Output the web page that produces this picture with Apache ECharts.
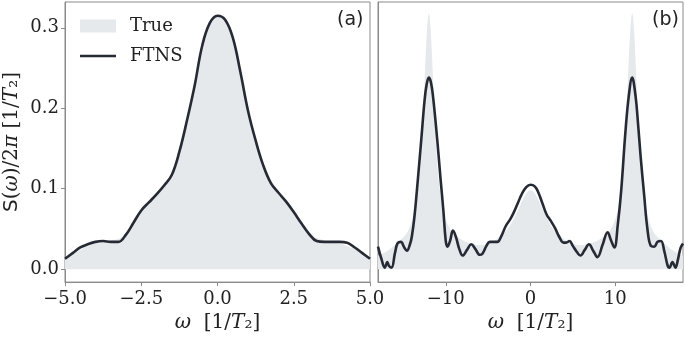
<!DOCTYPE html>
<html>
<head>
<meta charset="utf-8">
<script src="https://cdn.jsdelivr.net/npm/echarts@6/dist/echarts.min.js"></script>
<style>
  html, body { margin: 0; padding: 0; background: #fff; }
  #chart { width: 685px; height: 338px; }
</style>
</head>
<body>
<div id="chart"></div>
<script>
// tick positions
const ticksY = [0, 0.1, 0.2, 0.3];
const ticksXa = [-5, -2.5, 0, 2.5, 5];
const ticksXb = [-10, 0, 10];

// panel (a)
const xA = [-5, -4.75, -4.5, -4.25, -4, -3.75, -3.5, -3.25, -3, -2.75, -2.5, -2.25, -2, -1.75, -1.5, -1.25, -1, -0.75, -0.5, -0.25,
  0, 0.25, 0.5, 0.75, 1, 1.25, 1.5, 1.75, 2, 2.25, 2.5, 2.75, 3, 3.25, 3.5, 3.75, 4, 4.25, 4.5, 4.75, 5];
const ftnsA = [0.013, 0.020, 0.027, 0.031, 0.034, 0.035, 0.034, 0.034, 0.043, 0.058, 0.073, 0.083, 0.093, 0.104, 0.117, 0.146, 0.185, 0.228, 0.278, 0.306,
  0.315, 0.310, 0.288, 0.245, 0.197, 0.160, 0.129, 0.107, 0.095, 0.084, 0.071, 0.057, 0.044, 0.035, 0.034, 0.034, 0.034, 0.033, 0.027, 0.020, 0.013];
const trueA = [0.012, 0.018, 0.024, 0.029, 0.032, 0.034, 0.036, 0.038, 0.045, 0.058, 0.072, 0.083, 0.094, 0.105, 0.118, 0.146, 0.185, 0.228, 0.276, 0.305,
  0.314, 0.309, 0.287, 0.245, 0.198, 0.161, 0.130, 0.108, 0.095, 0.083, 0.070, 0.057, 0.046, 0.039, 0.036, 0.034, 0.032, 0.029, 0.025, 0.019, 0.013];

// panel (b)
const xBf = [-18, -17.6, -17.2, -16.9, -16.7, -16.4, -16, -15.7, -15.3, -14.9, -14.6, -14.2, -14, -13.7, -13.4, -12.9, -12.5, -12.25, -12, -11.75,
  -11.5, -11, -10.6, -10.3, -10, -9.8, -9.5, -9.15, -8.8, -8.4, -8, -7.5, -7, -6.5, -6, -5.7, -5.2, -4.8, -4.3, -3.9,
  -3.5, -2.9, -2.4, -2, -1.5, -1, -0.5, 0, 0.5, 0.9, 1.4, 1.9, 2.4, 2.9, 3.4, 3.9, 4.2, 4.6, 5, 5.5,
  5.9, 6.4, 6.9, 7.4, 7.9, 8.5, 9.1, 9.5, 9.9, 10.3, 10.7, 11.2, 11.6, 12, 12.4, 12.7, 13, 13.4, 13.8, 14.2,
  14.6, 15, 15.4, 15.8, 16.2, 16.4, 16.75, 17.1, 17.4, 17.7, 18];
const ftnsB = [0.028, 0.013, 0.002, 0.009, 0.004, 0.002, 0.020, 0.032, 0.034, 0.027, 0.023, 0.032, 0.041, 0.065, 0.099, 0.160, 0.210, 0.230, 0.238, 0.232,
  0.214, 0.160, 0.110, 0.075, 0.035, 0.028, 0.035, 0.048, 0.040, 0.025, 0.017, 0.024, 0.031, 0.025, 0.018, 0.019, 0.029, 0.034, 0.034, 0.034,
  0.040, 0.054, 0.062, 0.070, 0.082, 0.094, 0.102, 0.105, 0.103, 0.096, 0.082, 0.068, 0.060, 0.051, 0.040, 0.033, 0.033, 0.035, 0.029, 0.021,
  0.017, 0.024, 0.031, 0.023, 0.015, 0.030, 0.046, 0.036, 0.027, 0.055, 0.097, 0.170, 0.215, 0.238, 0.215, 0.180, 0.140, 0.094, 0.050, 0.029,
  0.028, 0.034, 0.035, 0.022, 0.004, 0.002, 0.009, 0.002, 0.012, 0.026, 0.032];

const xBt = [-18, -17, -16, -15, -14.5, -14, -13.6, -13.3, -13, -12.8, -12.6, -12.45, -12.3, -12.2, -12.1, -12, -11.9, -11.8, -11.7, -11.55,
  -11.4, -11.2, -11, -10.7, -10.4, -10, -9.5, -9, -8, -7, -6, -5, -4, -3, -2, -1, -0.5, 0, 0.5, 1,
  2, 3, 4, 5, 6, 7, 8, 9, 9.5, 10, 10.4, 10.7, 11, 11.2, 11.4, 11.55, 11.7, 11.8, 11.9, 12,
  12.1, 12.2, 12.3, 12.45, 12.6, 12.8, 13, 13.3, 13.6, 14, 14.5, 15, 16, 17, 18];
const trueB = [0.017, 0.022, 0.030, 0.040, 0.047, 0.060, 0.078, 0.098, 0.130, 0.168, 0.212, 0.248, 0.282, 0.300, 0.313, 0.318, 0.313, 0.300, 0.282, 0.248,
  0.212, 0.168, 0.130, 0.098, 0.078, 0.062, 0.050, 0.043, 0.036, 0.032, 0.030, 0.032, 0.037, 0.046, 0.062, 0.084, 0.094, 0.098, 0.094, 0.084,
  0.062, 0.046, 0.037, 0.032, 0.030, 0.032, 0.036, 0.043, 0.050, 0.062, 0.078, 0.098, 0.130, 0.168, 0.212, 0.248, 0.282, 0.300, 0.313, 0.318,
  0.313, 0.300, 0.282, 0.248, 0.212, 0.168, 0.130, 0.098, 0.078, 0.060, 0.047, 0.040, 0.030, 0.022, 0.017];

const fillColor = '#e5e9ec';
const lineColor = '#262a35';
const frameColor = '#8a8a8a';
const serif = 'DejaVu Serif';

const pairs = (xs, ys) => xs.map((x, i) => [x, ys[i]]);
const minus = s => s.replace('-', '\u2212');

const nameRich = {
  i: { fontFamily: serif, fontStyle: 'italic', fontSize: 20, color: '#222' },
  r: { fontFamily: serif, fontSize: 20, color: '#222' },
  s: { fontFamily: 'DejaVu Sans', fontSize: 20, color: '#222' }
};

function xAxisFor(idx, min, max, ticks, fmt) {
  return {
    type: 'value', gridIndex: idx, min: min, max: max,
    name: '{i|ω}{r|  [1/}{i|T}{r|₂]}',
    nameLocation: 'middle', nameGap: 27,
    nameTextStyle: { rich: nameRich },
    axisLine: { show: true, onZero: false, lineStyle: { color: frameColor, width: 1 } },
    axisTick: { show: true, length: 4, lineStyle: { color: frameColor }, customValues: ticks },
    axisLabel: { show: true, margin: 8, fontFamily: serif, fontSize: 18, color: '#222', customValues: ticks, formatter: fmt },
    splitLine: { show: false }
  };
}

function yAxisFor(idx, labels) {
  return {
    type: 'value', gridIndex: idx, min: -0.016, max: 0.332,
    name: labels ? '{s|S}{r|(}{i|ω}{r|)/2}{i|π}{r| [1/}{i|T}{r|₂]}' : '',
    nameLocation: 'middle', nameGap: 43,
    nameTextStyle: { rich: nameRich },
    axisLine: { show: true, onZero: false, lineStyle: { color: frameColor, width: 1 } },
    axisTick: { show: labels, length: 4, lineStyle: { color: frameColor }, customValues: ticksY },
    axisLabel: { show: labels, margin: 6, fontFamily: serif, fontSize: 18, color: '#222', customValues: ticksY, formatter: v => v.toFixed(1) },
    splitLine: { show: false }
  };
}

const chart = echarts.init(document.getElementById('chart'), null, { renderer: 'canvas' });

chart.setOption({
  animation: false,
  backgroundColor: '#fff',
  grid: [
    { left: 65, top: 2, width: 305, height: 285, show: true, borderColor: frameColor, borderWidth: 1 },
    { left: 378, top: 2, width: 305, height: 285, show: true, borderColor: frameColor, borderWidth: 1 }
  ],
  legend: {
    orient: 'vertical', left: 80, top: 17, padding: 0,
    itemWidth: 36, itemHeight: 13, itemGap: 12,
    textStyle: { fontFamily: serif, fontSize: 18, color: '#222', padding: [0, 0, 0, 9] },
    data: [
      { name: 'True', icon: 'rect', itemStyle: { color: fillColor } },
      { name: 'FTNS', icon: 'path://M0,0L36,0L36,0Z M0,5.2L36,5.2L36,7.8L0,7.8Z M0,13L36,13L36,13Z', itemStyle: { color: lineColor } }
    ]
  },
  xAxis: [
    xAxisFor(0, -5, 5, ticksXa, v => minus(v.toFixed(1))),
    xAxisFor(1, -18, 18, ticksXb, v => minus(String(v)))
  ],
  yAxis: [yAxisFor(0, true), yAxisFor(1, false)],
  graphic: [
    { type: 'text', left: 337, top: 11, style: { text: '(a)', fontFamily: 'DejaVu Sans', fontSize: 19, fill: '#222' } },
    { type: 'text', left: 652, top: 11, style: { text: '(b)', fontFamily: 'DejaVu Sans', fontSize: 19, fill: '#222' } }
  ],
  series: [
    {
      name: 'True', type: 'line', xAxisIndex: 0, yAxisIndex: 0, data: pairs(xA, trueA),
      smooth: 0.4, showSymbol: false, symbol: 'none',
      lineStyle: { width: 0, color: fillColor }, itemStyle: { color: fillColor },
      areaStyle: { color: fillColor, opacity: 1, origin: 0 }
    },
    {
      name: 'True', type: 'line', xAxisIndex: 1, yAxisIndex: 1, data: pairs(xBt, trueB),
      smooth: 0.4, showSymbol: false, symbol: 'none',
      lineStyle: { width: 0, color: fillColor }, itemStyle: { color: fillColor },
      areaStyle: { color: fillColor, opacity: 1, origin: 0 }
    },
    {
      name: 'FTNS', type: 'line', xAxisIndex: 0, yAxisIndex: 0, data: pairs(xA, ftnsA),
      smooth: 0.4, showSymbol: false, symbol: 'none',
      lineStyle: { width: 2.6, color: lineColor }, itemStyle: { color: lineColor }
    },
    {
      name: 'FTNS', type: 'line', xAxisIndex: 1, yAxisIndex: 1, data: pairs(xBf, ftnsB),
      smooth: 0.4, showSymbol: false, symbol: 'none',
      lineStyle: { width: 2.6, color: lineColor }, itemStyle: { color: lineColor }
    }
  ]
});
</script>
</body>
</html>
